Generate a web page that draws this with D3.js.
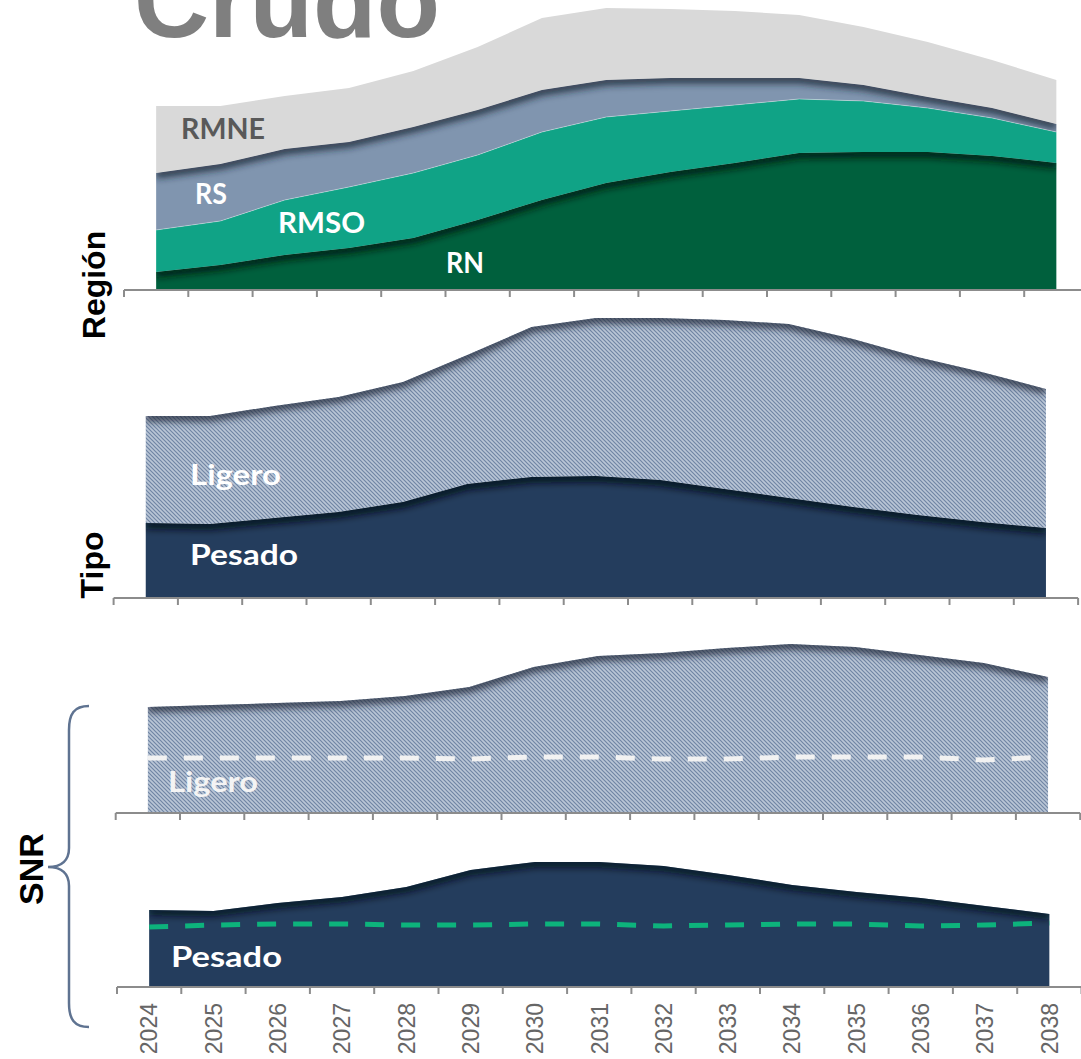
<!DOCTYPE html>
<html><head><meta charset="utf-8">
<script src="https://cdn.jsdelivr.net/npm/d3@7"></script>
<style>body{margin:0;background:#fff}svg{display:block}</style>
</head><body>
<svg id="chart" width="1081" height="1059"></svg>
<script>
// ---------- DATA ----------
const years = [2024,2025,2026,2027,2028,2029,2030,2031,2032,2033,2034,2035,2036,2037,2038];
const regionKeys = ["RN","RMSO","RS","RMNE"];
const rn   = [18,25,35,42,52,70,90,107,118,127,137,138,138,134,127];
const rmso = [42,44,55,61,65,65,68,66,61,58,54,51,44,38,31];
const rs   = [57,57,51,45,46,45,42,37,33,27,21,16,11,10,8];
const rmne = [67,58,53,54,56,63,72,72,69,67,63,58,55,48,44];
const tipoKeys = ["Pesado","Ligero"];
const tipoPesado = [75,74,80,86,96,114,121,122,118,109,100,91,83,76,70];
const tipoLigero = [107,108,112,115,120,129,150,158,162,169,174,168,158,150,139];
const snrLigero    = [106,108,110,112,117,126,146,157,160,165,169,166,158,150,136];
const snrLigeroRef = [55,55,55,55,55,54,56,56,54,54,56,56,56,53,56];
const snrPesado    = [77,76,84,90,100,117,125,125,121,112,102,95,89,81,73];
const snrPesadoRef = [60,62,63,63,62,62,63,63,61,62,63,63,61,62,64];
const title = "Crudo";
const panelTitles = ["Región","Tipo","SNR"];

// ---------- SETUP ----------
const svg = d3.select("#chart");
const defs = svg.append("defs");
const W = 1081, H = 1059;
const STEP = 64.3;
const colors = {RN:"#00603d", RMSO:"#10a386", RS:"#8095af", RMNE:"#d9d9d9", Pesado:"#243d5d"};
const labelFont = "Lato, 'Open Sans', sans-serif";

// blur filter
const blur = defs.append("filter").attr("id","blur")
  .attr("filterUnits","userSpaceOnUse").attr("x",0).attr("y",0).attr("width",W).attr("height",H);
blur.append("feGaussianBlur").attr("stdDeviation",3.5);

// hatch pattern
const pat = defs.append("pattern").attr("id","hatch").attr("patternUnits","userSpaceOnUse")
  .attr("width",4).attr("height",4);
pat.append("rect").attr("width",4).attr("height",4).attr("fill","#bac6d6");
pat.append("path").attr("d","M-1,-1 L5,5 M-1,3 L1,5 M3,-1 L5,1").attr("stroke","#7085a4").attr("stroke-width",1.2);

function makeX(x0){
  return d3.scaleBand().domain(years).range([x0, x0 + STEP*years.length]).padding(0);
}
function makeY(base){
  return d3.scaleLinear().domain([0,300]).range([base, base-300]);
}
let clipId = 0;
function shadowed(g, areaD, lineD, color, width, op){
  const id = "clip"+(clipId++);
  defs.append("clipPath").attr("id",id).append("path").attr("d",areaD);
  g.append("g").attr("clip-path",`url(#${id})`)
    .append("path").attr("d",lineD).attr("fill","none")
    .attr("stroke",color).attr("stroke-width",width).attr("stroke-opacity",op)
    .attr("filter","url(#blur)").attr("transform","translate(0,1)");
}
function drawAxis(x, base){
  const g = svg.append("g");
  const r = x.range();
  g.append("line").attr("x1",r[0]).attr("x2",r[1]).attr("y1",base).attr("y2",base)
    .attr("stroke","#8c8c8c").attr("stroke-width",2);
  const bounds = years.map(y=>x(y)).concat([r[1]]);
  g.selectAll("line.t").data(bounds).join("line").attr("class","t")
    .attr("x1",d=>d).attr("x2",d=>d).attr("y1",base).attr("y2",base+7)
    .attr("stroke","#8c8c8c").attr("stroke-width",2);
}
function label(text, x, y, fill, len){
  svg.append("text").attr("x",x).attr("y",y).attr("fill",fill)
    .attr("font-family",labelFont).attr("font-weight",700).attr("font-size",29)
    .attr("textLength",len).attr("lengthAdjust","spacingAndGlyphs").text(text);
}

// ---------- TITLE ----------
svg.append("text").attr("x",287).attr("y",37).attr("text-anchor","middle")
  .attr("font-family","'Liberation Sans', Arial, sans-serif").attr("font-weight",700)
  .attr("font-size",104).attr("fill","#7f7f7f").text(title);

// ---------- PANEL 1: REGION ----------
{
  const x = makeX(124), y = makeY(290);
  const cx = d => x(d.data.year) + x.bandwidth()/2;
  const rows = years.map((yr,i)=>({year:yr, RN:rn[i], RMSO:rmso[i], RS:rs[i], RMNE:rmne[i]}));
  const st = d3.stack().keys(regionKeys)(rows);
  const area = d3.area().x(cx).y0(d=>y(d[0])).y1(d=>y(d[1]));
  const top = d3.line().x(cx).y(d=>y(d[1]));
  const g = svg.append("g");
  st.forEach(layer=>{
    g.append("path").attr("d",area(layer)).attr("fill",colors[layer.key]);
  });
  // shadows on RN and RS tops
  shadowed(g, area(st[0]), top(st[0]), "#00140c", 9, 0.85);
  shadowed(g, area(st[2]), top(st[2]), "#1c2433", 9, 0.8);
  g.append("path").attr("d",top(st[1])).attr("fill","none")
    .attr("stroke","rgba(255,255,255,0.35)").attr("stroke-width",1);
  drawAxis(x, 290);
  label("RMNE",181,139,"#595959",84);
  label("RS",195,204,"#ffffff",32);
  label("RMSO",278,233,"#ffffff",87);
  label("RN",446,273,"#ffffff",38);
}

// ---------- PANEL 2: TIPO ----------
{
  const x = makeX(113.6), y = makeY(598);
  const cx = d => x(d.data.year) + x.bandwidth()/2;
  const rows = years.map((yr,i)=>({year:yr, Pesado:tipoPesado[i], Ligero:tipoLigero[i]}));
  const st = d3.stack().keys(tipoKeys)(rows);
  const area = d3.area().x(cx).y0(d=>y(d[0])).y1(d=>y(d[1]));
  const top = d3.line().x(cx).y(d=>y(d[1]));
  const g = svg.append("g");
  g.append("path").attr("d",area(st[0])).attr("fill",colors.Pesado);
  g.append("path").attr("d",area(st[1])).attr("fill","url(#hatch)");
  shadowed(g, area(st[0]), top(st[0]), "#050c18", 10, 0.85);
  shadowed(g, area(st[1]), top(st[1]), "#1e2838", 9, 0.8);
  drawAxis(x, 598);
  label("Ligero",190,485,"#ffffff",91);
  label("Pesado",190,565,"#ffffff",108);
}

// ---------- SNR PANELS ----------
function snrPanel(x0, base, vals, ref, fill, shadowCol, refCol){
  const x = makeX(x0), y = makeY(base);
  const cx = (d,i) => x(years[i]) + x.bandwidth()/2;
  const area = d3.area().x(cx).y0(y(0)).y1(d=>y(d));
  const top = d3.line().x(cx).y(d=>y(d));
  const g = svg.append("g");
  g.append("path").attr("d",area(vals)).attr("fill",fill);
  shadowed(g, area(vals), top(vals), shadowCol, 9, 0.8);
  g.append("path").attr("d",top(ref)).attr("fill","none")
    .attr("stroke",refCol).attr("stroke-width",5).attr("stroke-dasharray","19,17");
  drawAxis(x, base);
  return x;
}
snrPanel(115.7, 813, snrLigero, snrLigeroRef, "url(#hatch)", "#1e2838", "#f2f2f2");
label("Ligero",168,792,"#f4f4f4",90);

const x4 = snrPanel(117, 987, snrPesado, snrPesadoRef, colors.Pesado, "#050c18", "#0db37c");
label("Pesado",171,967,"#ffffff",111);

// year labels
svg.append("g").selectAll("text").data(years).join("text")
  .attr("transform", d=>`translate(${x4(d)+x4.bandwidth()/2},1003) rotate(-90)`)
  .attr("dy","0.36em").attr("text-anchor","end")
  .attr("font-family","'Liberation Sans', Arial, sans-serif").attr("font-size",23)
  .attr("fill","#666666").text(d=>d);

// ---------- PANEL TITLES ----------
const ptPos = [[105,285],[103,565],[43,869]];
panelTitles.forEach((t,i)=>{
  svg.append("text").attr("transform",`translate(${ptPos[i][0]},${ptPos[i][1]}) rotate(-90)`)
    .attr("text-anchor","middle").attr("font-family","'Liberation Sans', Arial, sans-serif")
    .attr("font-weight",700).attr("font-size", i===2 ? 34 : 32).attr("fill","#000").text(t);
});

// brace
svg.append("path")
  .attr("d","M89,706 C74,706 69,714 69,730 L69,848 C69,860 62,867 48,867 C62,867 69,874 69,886 L69,1003 C69,1019 74,1027 89,1027")
  .attr("fill","none").attr("stroke","#5f7391").attr("stroke-width",2.5);
</script>
</body></html>
